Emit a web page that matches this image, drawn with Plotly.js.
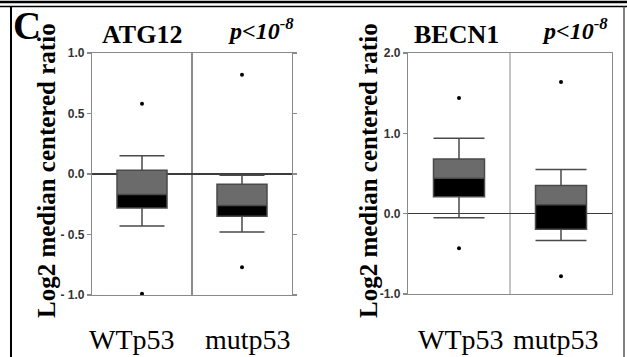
<!DOCTYPE html>
<html>
<head>
<meta charset="utf-8">
<script src="https://cdn.plot.ly/plotly-3.0.1.min.js"></script>
<style>html,body{margin:0;padding:0;background:#fff;}#chart{width:627px;height:357px;}</style>
</head>
<body>
<div id="chart"></div>
<script>
// ---- data ----
const categories = ['WTp53', 'mutp53'];

// ATG12
const atgLowerWhisker = [-0.43, -0.48];
const atgQ1 = [-0.28, -0.35];
const atgMedian = [-0.17, -0.26];
const atgQ3 = [0.03, -0.085];
const atgUpperWhisker = [0.15, -0.01];
const atgOutlierX = ['WTp53', 'WTp53', 'mutp53', 'mutp53'];
const atgOutlierY = [0.58, -0.99, 0.82, -0.77];

// BECN1
const becLowerWhisker = [-0.05, -0.335];
const becQ1 = [0.21, -0.195];
const becMedian = [0.44, 0.11];
const becQ3 = [0.68, 0.35];
const becUpperWhisker = [0.94, 0.55];
const becOutlierX = ['WTp53', 'WTp53', 'mutp53', 'mutp53'];
const becOutlierY = [1.44, -0.43, 1.64, -0.78];

// tick labels
const atgTickVals = [-1, -0.5, 0, 0.5, 1];
const atgTickText = ['- 1.0', '- 0.5', '0.0', '0.5', '1.0'];
const becTickVals = [-1, 0, 1, 2];
const becTickText = ['-1.0', '0.0', '1.0', '2.0'];

// ---- styles ----
const GRAY = '#6b6b6b';
const LINE = '#4a4a4a';
const AX = '#8a8a8a';
const SERIF = 'Liberation Serif, Times New Roman, serif';

function sub(a, b) { return a.map((v, i) => v - b[i]); }
function bold(arr) { return arr.map(t => '<b>' + t + '</b>'); }

function panelTraces(xa, ya, lw, q1, med, q3, uw, ox, oy, whiskerW) {
  return [
    { type: 'bar', x: categories, base: med, y: sub(q3, med), width: 0.5,
      marker: { color: GRAY, line: { width: 0 } }, xaxis: xa, yaxis: ya, hoverinfo: 'skip' },
    { type: 'bar', x: categories, base: q1, y: sub(med, q1), width: 0.5,
      marker: { color: '#000', line: { width: 0 } }, xaxis: xa, yaxis: ya, hoverinfo: 'skip' },
    { type: 'box', x: categories, q1: q1, median: med, q3: q3,
      lowerfence: lw, upperfence: uw, width: 0.5, whiskerwidth: whiskerW,
      boxpoints: false, fillcolor: 'rgba(0,0,0,0)',
      line: { color: LINE, width: 1.5 }, xaxis: xa, yaxis: ya },
    { type: 'scatter', mode: 'markers', x: ox, y: oy,
      marker: { color: '#000', size: 4 }, xaxis: xa, yaxis: ya }
  ];
}

const data = [].concat(
  panelTraces('x', 'y', atgLowerWhisker, atgQ1, atgMedian, atgQ3, atgUpperWhisker, atgOutlierX, atgOutlierY, 0.9),
  panelTraces('x2', 'y2', becLowerWhisker, becQ1, becMedian, becQ3, becUpperWhisker, becOutlierX, becOutlierY, 1.0)
);

const W = 627, H = 357;
const px = v => v / W;
const py = v => 1 - v / H;

const tickFont = { family: 'Arial, Liberation Sans, sans-serif', size: 12, color: '#333' };

const xBase = {
  type: 'category', categoryorder: 'array', categoryarray: categories,
  range: [-0.5, 1.5], showgrid: true, tickson: 'boundaries',
  showline: true, mirror: true, linecolor: AX, linewidth: 1.2,
  ticks: '', showticklabels: false, zeroline: false, fixedrange: true
};

function ann(text, xref, x, y, size, extra) {
  return Object.assign({ text: text, xref: xref, yref: 'paper', x: x, y: y, showarrow: false,
    xanchor: 'center', yanchor: 'middle',
    font: { family: SERIF, size: size, color: '#000' } }, extra || {});
}

const layout = {
  width: W, height: H,
  margin: { l: 0, r: 0, t: 0, b: 0 },
  paper_bgcolor: '#fff', plot_bgcolor: '#fff',
  showlegend: false,
  barmode: 'overlay', boxmode: 'overlay',
  xaxis: Object.assign({}, xBase, { domain: [px(92), px(292)], anchor: 'y', gridcolor: '#8c8c8c', gridwidth: 1.2 }),
  yaxis: {
    domain: [py(295), py(53)], anchor: 'x', range: [-1, 1],
    tickvals: atgTickVals, ticktext: bold(atgTickText), tickfont: tickFont,
    ticks: 'outside', ticklen: 4, tickcolor: AX, tickwidth: 1.2,
    showline: true, mirror: 'allticks', linecolor: AX, linewidth: 1.2,
    showgrid: false, zeroline: true, zerolinecolor: '#3c3c3c', zerolinewidth: 1.5
  },
  xaxis2: Object.assign({}, xBase, { domain: [px(408), px(612)], anchor: 'y2', gridcolor: '#c4c4c4', gridwidth: 1.2 }),
  yaxis2: {
    domain: [py(294), py(53)], anchor: 'x2', range: [-1, 2],
    tickvals: becTickVals, ticktext: bold(becTickText), tickfont: tickFont,
    ticks: 'outside', ticklen: 4, tickcolor: AX, tickwidth: 1.2,
    showline: true, mirror: true, linecolor: AX, linewidth: 1.2,
    showgrid: false, zeroline: true, zerolinecolor: '#3c3c3c', zerolinewidth: 1.5
  },
  yaxis3: {
    overlaying: 'y2', anchor: 'x2', side: 'right', range: [-1, 2], dtick: 0.5,
    ticks: 'outside', ticklen: 4, tickcolor: AX, tickwidth: 1.2,
    showticklabels: false, showline: false, showgrid: false, zeroline: false
  },
  shapes: [
    { type: 'line', xref: 'paper', yref: 'paper', x0: 0, x1: 1, y0: py(2), y1: py(2), line: { color: '#000', width: 2.5 } },
    { type: 'line', xref: 'paper', yref: 'paper', x0: 0, x1: 1, y0: py(6.5), y1: py(6.5), line: { color: '#000', width: 1.5 } },
    { type: 'line', xref: 'paper', yref: 'paper', x0: px(11), x1: px(11), y0: 0, y1: py(6.5), line: { color: '#000', width: 2 } },
    { type: 'line', xref: 'paper', yref: 'paper', x0: px(624), x1: px(624), y0: 0, y1: py(6.5), line: { color: '#555', width: 1.5 } }
  ],
  annotations: [
    ann('<b>C</b>', 'paper', px(27), py(26), 39),
    ann('<b>ATG12</b>', 'paper', px(142), py(35), 26),
    ann('<b><i>p&lt;10<sup>-8</sup></i></b>', 'paper', px(261), py(29), 24),
    ann('<b>BECN1</b>', 'paper', px(457), py(35), 26),
    ann('<b><i>p&lt;10<sup>-8</sup></i></b>', 'paper', px(575), py(29), 24),
    ann('<b>Log2 median centered ratio</b>', 'paper', px(46), py(171), 25, { textangle: -90 }),
    ann('<b>Log2 median centered ratio</b>', 'paper', px(368), py(171), 25, { textangle: -90 }),
    ann(categories[0], 'x', categories[0], py(339), 28, { xshift: -10 }),
    ann(categories[1], 'x', categories[1], py(339), 28, { xshift: 6 }),
    ann(categories[0], 'x2', categories[0], py(339), 28, { xshift: 2 }),
    ann(categories[1], 'x2', categories[1], py(339), 28, { xshift: -5 })
  ]
};

Plotly.newPlot('chart', data, layout, { staticPlot: true, displayModeBar: false });
</script>
</body>
</html>
